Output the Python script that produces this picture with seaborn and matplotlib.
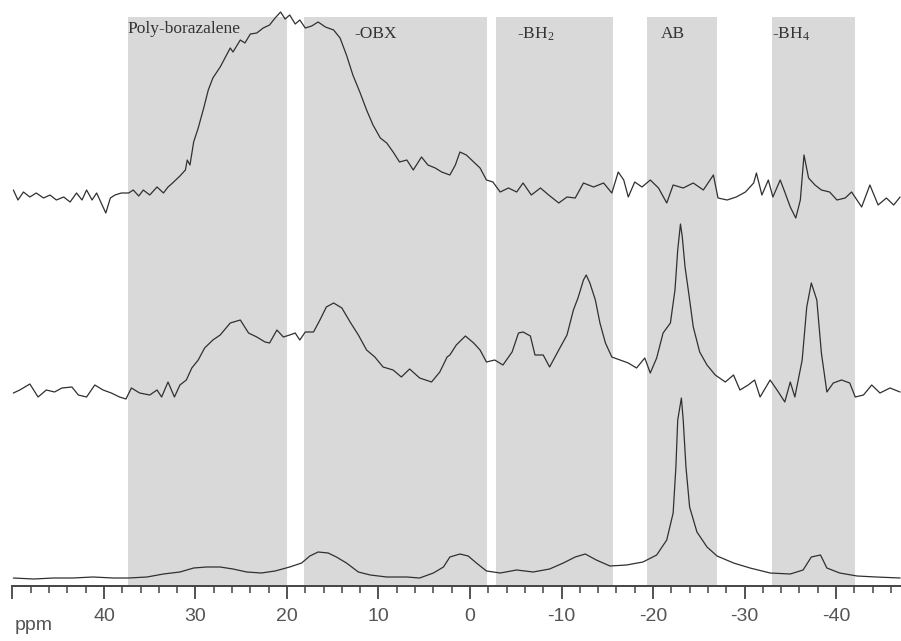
import numpy as np
import pandas as pd
import seaborn as sns
import matplotlib.pyplot as plt

sns.set_theme(style="white")
plt.rcParams['font.family'] = ['Liberation Sans', 'DejaVu Sans']
plt.rcParams['mathtext.fontset'] = 'custom'
plt.rcParams['mathtext.rm'] = 'Liberation Serif'
plt.rcParams['mathtext.it'] = 'Liberation Serif:italic'

# chemical shift (ppm) and intensity
top_ppm = [49.9, 49.4, 48.8, 48.1, 47.4, 46.6, 45.9, 45.2, 44.4, 43.7,
           43.0, 42.4, 41.9, 41.3, 40.8, 40.3, 39.8, 39.3, 38.8, 38.1,
           37.3, 36.8, 36.2, 35.7, 35.0, 34.2, 33.5, 33.0, 32.5, 31.7,
           31.1, 30.9, 30.6, 30.2, 29.7, 29.1, 28.6, 28.1, 27.3, 26.6,
           26.2, 25.9, 25.1, 24.6, 24.0, 23.3, 22.6, 21.9, 21.3, 20.7,
           20.2, 19.7, 19.1, 18.6, 18.0, 17.3, 16.6, 15.8, 14.9, 14.2,
           13.5, 12.8, 12.0, 11.3, 10.6, 9.8, 9.1, 8.4, 7.7, 6.9,
           6.2, 5.3, 4.6, 3.8, 3.1, 2.2, 1.6, 1.1, 0.4, -0.4,
           -1.1, -1.8, -2.5, -3.3, -4.2, -5.1, -5.8, -6.7, -7.7, -8.6,
           -9.7, -10.6, -11.5, -12.4, -13.5, -14.6, -15.5, -16.2, -16.8, -17.3,
           -18.0, -18.8, -19.7, -20.6, -21.5, -22.2, -23.3, -24.4, -25.5, -26.6,
           -27.1, -28.1, -29.1, -30.1, -31.0, -31.3, -31.9, -32.6, -33.1, -33.9,
           -34.4, -35.0, -35.6, -36.1, -36.5, -37.0, -37.7, -38.4, -39.3, -40.1,
           -41.0, -41.7, -42.8, -43.7, -44.6, -45.5, -46.3, -47.0]
top_int = [7, -3, 5, 0, 4, -1, 2, -3, 0, -5,
           4, -3, 7, -3, 4, -6, -16, -1, 2, 4,
           4, 7, 1, 7, 2, 10, 4, 10, 14, 21,
           27, 37, 32, 55, 69, 89, 107, 119, 130, 142,
           149, 145, 157, 154, 163, 164, 169, 172, 179, 185,
           178, 182, 173, 177, 169, 171, 175, 170, 167, 159,
           142, 122, 104, 87, 72, 59, 54, 45, 35, 37,
           27, 40, 32, 29, 25, 22, 32, 45, 42, 35,
           29, 17, 15, 5, 9, 5, 14, 2, 9, 2,
           -6, 0, -1, 14, 10, 14, 4, 25, 17, 0,
           15, 10, 17, 9, -6, 12, 9, 14, 7, 22,
           -1, -3, 0, 5, 14, 24, 2, 17, 0, 17,
           5, -10, -21, -3, 42, 19, 12, 7, 5, -3,
           -1, 5, -10, 12, -8, -1, -8, 0]

mid_ppm = [49.9, 49.2, 48.1, 47.2, 46.3, 45.4, 44.6, 43.5, 42.8, 41.9,
           41.0, 40.1, 39.2, 38.3, 37.6, 37.0, 36.1, 35.0, 34.2, 33.7,
           33.0, 32.3, 31.7, 31.0, 30.4, 29.7, 29.0, 28.1, 27.3, 26.2,
           25.1, 24.2, 23.3, 22.4, 21.9, 21.1, 20.4, 19.7, 19.1, 18.6,
           18.0, 17.1, 16.4, 15.7, 14.9, 14.0, 13.1, 12.2, 11.3, 10.4,
           9.5, 8.4, 7.5, 6.6, 5.5, 4.2, 3.3, 2.5, 2.2, 1.5,
           0.5, -0.4, -1.1, -1.8, -2.7, -3.6, -4.6, -5.3, -5.8, -6.6,
           -7.1, -8.0, -8.7, -9.7, -10.6, -11.3, -11.8, -12.4, -12.7, -13.1,
           -13.7, -14.2, -14.8, -15.5, -16.4, -17.3, -18.2, -19.1, -19.7, -20.4,
           -21.1, -21.9, -22.4, -22.7, -23.0, -23.2, -23.5, -23.9, -24.4, -25.1,
           -25.9, -26.8, -27.9, -28.8, -29.5, -30.4, -31.1, -31.7, -32.8, -33.7,
           -34.4, -35.0, -35.5, -36.3, -36.8, -37.3, -37.9, -38.4, -39.0, -39.7,
           -40.6, -41.5, -42.1, -43.0, -43.9, -44.8, -45.9, -47.0]
mid_int = [-1, 2, 8, -5, 2, 0, 4, 5, -3, -5,
           7, 2, -1, -5, -7, 4, -1, -3, 2, -5,
           10, -5, 7, 12, 24, 32, 44, 52, 57, 69,
           72, 59, 55, 50, 49, 62, 55, 57, 59, 52,
           60, 60, 72, 85, 89, 84, 70, 57, 42, 35,
           25, 22, 15, 23, 14, 10, 20, 35, 37, 47,
           56, 49, 42, 30, 32, 27, 40, 59, 60, 56,
           37, 37, 25, 42, 57, 82, 94, 112, 117, 109,
           92, 69, 49, 35, 32, 29, 24, 34, 19, 34,
           59, 69, 102, 142, 168, 155, 125, 99, 65, 40,
           27, 17, 10, 17, 2, 7, 12, -5, 12, 0,
           -10, 10, -5, 32, 85, 109, 92, 39, 0, 9,
           12, 9, -5, -3, 7, -1, 4, 0]

bot_ppm = [49.9, 47.7, 45.5, 43.4, 41.2, 39.0, 37.3, 35.3, 33.5, 31.7,
           30.2, 28.8, 27.3, 25.9, 24.4, 22.8, 21.3, 19.7, 18.4, 17.5,
           16.6, 15.5, 14.6, 13.5, 12.2, 10.9, 9.1, 6.9, 5.5, 4.0,
           2.9, 2.2, 1.1, 0.2, -0.7, -1.8, -3.3, -5.1, -6.9, -8.7,
           -10.2, -11.5, -12.6, -13.8, -15.3, -17.1, -18.9, -20.4, -21.5, -22.2,
           -22.5, -22.7, -23.1, -23.3, -23.6, -24.0, -24.8, -25.9, -27.0, -28.8,
           -30.6, -32.8, -35.0, -36.4, -37.3, -38.3, -39.0, -40.4, -42.3, -44.4,
           -47.0]
bot_int = [0, -1, 0, 0, 1, 0, 0, 1, 4, 6,
           10, 11, 11, 9, 6, 5, 7, 11, 15, 22,
           26, 25, 21, 15, 6, 3, 1, 1, 0, 5,
           11, 21, 24, 22, 15, 7, 5, 8, 6, 9,
           15, 21, 24, 18, 12, 13, 16, 23, 38, 65,
           111, 158, 180, 158, 111, 71, 46, 31, 22, 15,
           10, 5, 4, 8, 21, 23, 10, 5, 2, 1,
           0]

# vertical offsets of the stacked spectra
offsets = {"top": 389, "mid": 194, "bot": 8}

# shaded assignment regions (ppm from, ppm to) and their labels
regions = [(37.4, 20.0), (18.1, -1.9), (-2.8, -15.6), (-19.3, -27.0), (-33.0, -42.1)]
region_labels = ["Poly-borazalene", "-OBX", "-BH$_2$", "AB", "-BH$_4$"]
label_ppm = [37.4, 12.6, -5.1, -20.8, -33.0]
label_y = [553, 548, 547, 548, 547]

frames = []
for name, ppm, inten in [("top", top_ppm, top_int), ("mid", mid_ppm, mid_int),
                         ("bot", bot_ppm, bot_int)]:
    d = pd.DataFrame({"ppm": ppm, "signal": np.array(inten) + offsets[name]})
    d["trace"] = name
    frames.append(d)
df = pd.concat(frames, ignore_index=True)

fig = plt.figure(figsize=(9.01, 6.41), dpi=100)
ax = fig.add_axes([12 / 901, 55 / 641, 889 / 901, 586 / 641])

for lo, hi in regions:
    ax.axvspan(lo, hi, ymin=0, ymax=569 / 586, color="#d9d9d9", lw=0, zorder=0)

for name in ["top", "mid", "bot"]:
    sns.lineplot(data=df[df.trace == name], x="ppm", y="signal", ax=ax,
                 color="#303030", lw=0.9, estimator=None, sort=False, zorder=2)

for txt, x, y in zip(region_labels, label_ppm, label_y):
    ax.text(x, y, txt, ha="left", va="baseline", fontsize=12.5, color="#333333",
            family=["Liberation Serif", "DejaVu Serif"], zorder=3)

ax.set_xlim(50.05, -47.1)
ax.set_ylim(0, 586)
ax.set_xlabel("")
ax.set_ylabel("")
ax.set_yticks([])
for s in ["left", "top", "right"]:
    ax.spines[s].set_visible(False)
ax.spines["bottom"].set_color("#444444")
ax.spines["bottom"].set_linewidth(1.4)

major = [50, 40, 30, 20, 10, 0, -10, -20, -30, -40]
ax.set_xticks(major)
ax.set_xticklabels(["" if m == 50 else str(m) for m in major])
ax.set_xticks(np.arange(48, -47, -2), minor=True)
ax.tick_params(axis="x", which="major", direction="out", length=9.5, width=1.3,
               color="#444444", labelsize=14, labelcolor="#555555", pad=6, bottom=True)
ax.tick_params(axis="x", which="minor", direction="out", length=5, width=1.1,
               color="#444444", bottom=True)

fig.text(15 / 901, 11 / 641, "ppm", ha="left", va="baseline", fontsize=14, color="#555555")

fig.savefig("out.png", dpi=100)
